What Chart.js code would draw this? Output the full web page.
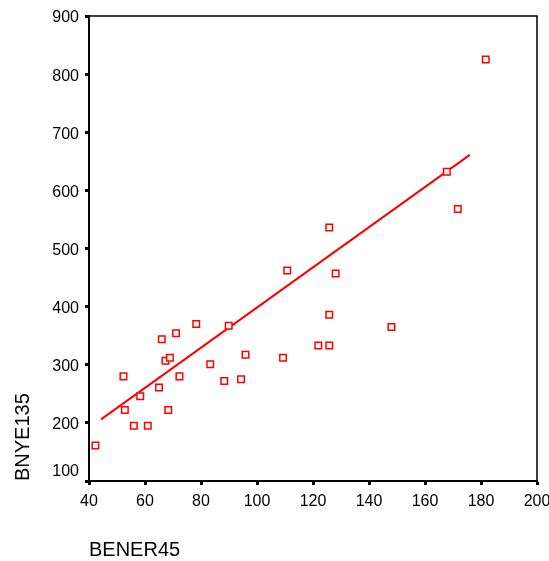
<!DOCTYPE html>
<html>
<head>
<meta charset="utf-8">
<script src="https://cdn.jsdelivr.net/npm/chart.js@4"></script>
<style>
  html, body { margin: 0; padding: 0; background: #fff; }
  #wrap { width: 549px; height: 561px; }
</style>
</head>
<body>
<div id="wrap"><canvas id="scatter"></canvas></div>
<script>
// 数据: BENER45 (x) / BNYE135 (y)
const bener45 = [42.3, 52.3, 52.8, 56, 58.3, 61, 65, 66, 67.3, 68.9, 68.3, 71.1, 72.3, 78.3, 83.3,
                 88.3, 89.9, 94.3, 95.9, 109.3, 110.8, 121.9, 125.8, 125.8, 125.8, 128.1, 148, 167.8, 171.7, 181.7];
const bnye135 = [161, 280, 222, 195, 246, 195, 261, 344, 307, 312, 222, 354, 280, 370, 301,
                 272, 367, 275, 317, 312, 462, 333, 333, 386, 536, 457, 365, 632, 568, 825];
// 回归线两端
const fitX = [44.3, 176];
const fitY = [206, 661];
const xTicks = [40, 60, 80, 100, 120, 140, 160, 180, 200];
const yTicks = [100, 200, 300, 400, 500, 600, 700, 800, 900];

const font = 'Arial, "Liberation Sans", Helvetica, sans-serif';
Chart.defaults.font.family = font;
Chart.defaults.color = '#000';

// 外框 + 底部 100 标签 (SPSS 把它往上挪了)
const framePlugin = {
    id: 'frame',
    afterDraw(chart) {
        const { ctx, chartArea: a } = chart;
        const y = chart.scales.y;
        ctx.save();
        ctx.strokeStyle = '#000';
        ctx.lineWidth = 1.5;
        ctx.beginPath();
        ctx.moveTo(a.left, a.top);
        ctx.lineTo(a.right, a.top);
        ctx.lineTo(a.right, a.bottom);
        ctx.stroke();
        ctx.font = '16px ' + font;
        ctx.fillStyle = '#000';
        ctx.textAlign = 'right';
        ctx.textBaseline = 'middle';
        ctx.fillText(String(yTicks[0]), y.right - 10, y.getPixelForValue(yTicks[0]) - 9);
        ctx.restore();
    }
};

new Chart(document.getElementById('scatter'), {
    type: 'scatter',
    data: {
        datasets: [{
            data: bener45.map((x, i) => ({ x, y: bnye135[i] })),
            pointStyle: 'rect',
            pointRadius: 4.6,
            pointHoverRadius: 4.6,
            borderColor: '#ff0000',
            backgroundColor: '#ffffff',
            borderWidth: 1.5
        }, {
            type: 'line',
            data: fitX.map((x, i) => ({ x, y: fitY[i] })),
            borderColor: '#ff0000',
            borderWidth: 2,
            pointRadius: 0,
            fill: false
        }]
    },
    options: {
        responsive: true,
        maintainAspectRatio: false,
        animation: false,
        layout: { padding: { top: 16, right: 12, left: 0, bottom: 0 } },
        plugins: { legend: { display: false }, tooltip: { enabled: false } },
        scales: {
            x: {
                type: 'linear',
                min: 40, max: 200,
                afterBuildTicks: s => { s.ticks = xTicks.map(v => ({ value: v })); },
                afterFit: s => { s.height = 80; s.paddingRight = 0; },
                border: { display: true, color: '#000', width: 2 },
                grid: { drawOnChartArea: false, drawTicks: true, tickLength: 4, tickWidth: 3, color: '#000' },
                ticks: { font: { size: 16 }, padding: 7, maxRotation: 0 },
                title: {
                    display: true, text: 'BENER45', align: 'start',
                    font: { size: 20, lineHeight: 1 }, padding: { bottom: 1, top: 0 }
                }
            },
            y: {
                type: 'linear',
                min: 100, max: 900,
                afterBuildTicks: s => { s.ticks = yTicks.map(v => ({ value: v })); },
                afterFit: s => { s.width = 89; },
                border: { display: true, color: '#000', width: 2 },
                grid: { drawOnChartArea: false, drawTicks: true, tickLength: 4, tickWidth: 3, color: '#000' },
                ticks: {
                    font: { size: 16 }, padding: 6, labelOffset: 2,
                    callback: v => (v === yTicks[0] ? '' : v)
                },
                title: {
                    display: true, text: 'BNYE135', align: 'start',
                    font: { size: 20, lineHeight: 1 }, padding: { top: 13, bottom: 0 }
                }
            }
        }
    },
    plugins: [framePlugin]
});
</script>
</body>
</html>
